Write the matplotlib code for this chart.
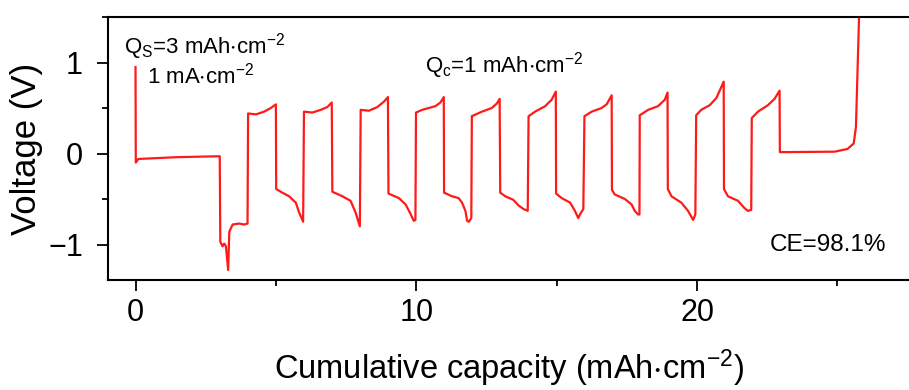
import numpy as np
import matplotlib
matplotlib.use('Agg')
from matplotlib import pyplot as plt
from matplotlib.ticker import MultipleLocator

plt.rcParams['font.family'] = ['Liberation Sans', 'DejaVu Sans']
plt.rcParams['mathtext.default'] = 'regular'

# initial plating (Q_S = 3 mAh/cm2)
init_cap = [0.0, 0.01, 0.1, 1.5, 3.0]
init_volt = [0.95, -0.10, -0.06, -0.04, -0.03]

# first negative step with the nucleation dip
neg0_cap = [3.02, 3.10, 3.16, 3.22, 3.30, 3.34, 3.46, 3.69, 3.87, 3.99]
neg0_volt = [-0.97, -1.02, -0.99, -1.02, -1.28, -0.86, -0.78, -0.77, -0.78, -0.77]

# positive (stripping) steps, 1 mAh/cm2 each
pos_cap = [
    [4.01, 4.29, 4.58, 4.82, 5.00],
    [6.00, 6.30, 6.60, 6.83, 6.99],
    [8.02, 8.31, 8.61, 8.85, 8.99],
    [9.99, 10.21, 10.44, 10.68, 10.86, 10.98],
    [11.98, 12.34, 12.69, 12.87, 12.97],
    [14.00, 14.23, 14.59, 14.82, 14.97],
    [15.99, 16.25, 16.60, 16.78, 16.96],
    [17.96, 18.26, 18.61, 18.85, 18.95],
    [19.97, 20.15, 20.45, 20.69, 20.95],
    [21.95, 22.17, 22.52, 22.76, 22.94],
]
pos_volt = [
    [0.44, 0.43, 0.46, 0.50, 0.54],
    [0.46, 0.45, 0.48, 0.51, 0.56],
    [0.48, 0.47, 0.51, 0.57, 0.62],
    [0.45, 0.48, 0.50, 0.52, 0.56, 0.62],
    [0.41, 0.46, 0.50, 0.55, 0.60],
    [0.41, 0.46, 0.52, 0.59, 0.68],
    [0.41, 0.46, 0.50, 0.54, 0.64],
    [0.42, 0.48, 0.52, 0.59, 0.67],
    [0.42, 0.48, 0.53, 0.61, 0.79],
    [0.39, 0.46, 0.53, 0.60, 0.69],
]

# negative (plating) steps
neg_cap = [
    [5.01, 5.17, 5.47, 5.71, 5.83, 5.97],
    [7.01, 7.37, 7.66, 7.84, 7.99],
    [9.01, 9.38, 9.62, 9.79, 9.91, 9.97],
    [10.99, 11.27, 11.51, 11.63, 11.75, 11.81, 11.87, 11.96],
    [12.99, 13.17, 13.46, 13.64, 13.82, 13.97],
    [14.98, 15.18, 15.48, 15.65, 15.77, 15.83, 15.95],
    [16.97, 17.07, 17.43, 17.67, 17.78, 17.90, 17.95],
    [18.96, 19.09, 19.44, 19.68, 19.86, 19.94],
    [20.96, 21.10, 21.46, 21.69, 21.81, 21.93],
]
neg_volt = [
    [-0.39, -0.42, -0.47, -0.54, -0.65, -0.75],
    [-0.42, -0.47, -0.52, -0.65, -0.80],
    [-0.44, -0.49, -0.56, -0.66, -0.74, -0.73],
    [-0.43, -0.47, -0.49, -0.54, -0.63, -0.74, -0.75, -0.71],
    [-0.43, -0.47, -0.51, -0.57, -0.61, -0.63],
    [-0.44, -0.49, -0.54, -0.63, -0.71, -0.67, -0.61],
    [-0.40, -0.45, -0.50, -0.56, -0.63, -0.67, -0.67],
    [-0.39, -0.47, -0.54, -0.63, -0.73, -0.67],
    [-0.39, -0.47, -0.52, -0.60, -0.63, -0.62],
]

# final full stripping
final_cap = [22.95, 24.90, 25.36, 25.58, 25.66, 25.72, 25.78]
final_volt = [0.015, 0.02, 0.05, 0.11, 0.29, 0.96, 1.60]

# stitch the segments in time order
cap = list(init_cap) + list(neg0_cap)
volt = list(init_volt) + list(neg0_volt)
for i in range(len(pos_cap)):
    cap += pos_cap[i]
    volt += pos_volt[i]
    if i < len(neg_cap):
        cap += neg_cap[i]
        volt += neg_volt[i]
cap += final_cap
volt += final_volt

fig = plt.figure(figsize=(9.09, 3.9), dpi=100)
ax = fig.add_axes([108 / 909, 1 - 280 / 390, 1 - 108 / 909, (280 - 17) / 390])
ax.plot(cap, volt, color='#ff1a1a', lw=1.6)

ax.set_xlim(-0.98, 27.55)
ax.set_ylim(-1.39, 1.50)
ax.spines['right'].set_visible(False)
for s in ['left', 'top', 'bottom']:
    ax.spines[s].set_linewidth(1.5)

ax.xaxis.set_major_locator(MultipleLocator(10))
ax.xaxis.set_minor_locator(MultipleLocator(5))
ax.yaxis.set_major_locator(MultipleLocator(1))
ax.yaxis.set_minor_locator(MultipleLocator(0.5))
ax.tick_params(which='major', direction='out', length=8, width=1.3,
               labelsize=22)
ax.tick_params(axis='x', which='major', pad=5)
ax.tick_params(axis='y', which='major', pad=10)
ax.tick_params(which='minor', direction='out', length=4, width=1.3)
ax.tick_params(top=False, right=False)
ax.set_yticks([-1, 0, 1])
ax.set_yticklabels(['\u22121', '0', '1'])

ax.set_xlabel('Cumulative capacity (mAh$\\cdot$cm$^{-2}$)', fontsize=23.5, labelpad=14)
ax.set_ylabel('Voltage (V)', fontsize=25, labelpad=4)

ax.text(-0.4, 1.17, 'Q$_S$=3 mAh$\\cdot$cm$^{-2}$', fontsize=16, va='center')
ax.text(0.42, 0.86, '1 mA$\\cdot$cm$^{-2}$', fontsize=16, va='center')
ax.text(10.3, 0.97, 'Q$_c$=1 mAh$\\cdot$cm$^{-2}$', fontsize=16, va='center')
ax.text(22.6, -1.0, 'CE=98.1%', fontsize=17.5, va='center')

plt.savefig('out.png', dpi=100)
